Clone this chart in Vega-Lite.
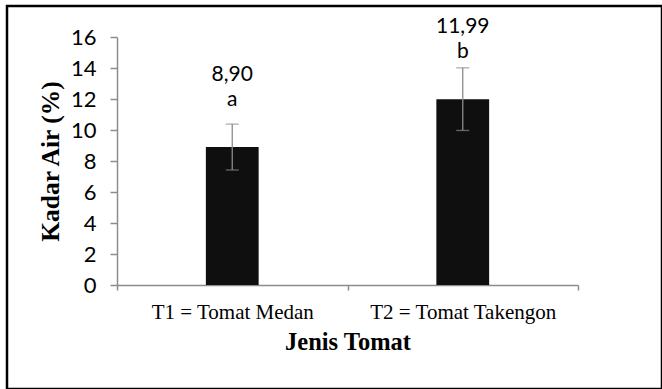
{
  "$schema": "https://vega.github.io/schema/vega-lite/v6.json",
  "width": 655,
  "height": 383,
  "autosize": {"type": "none"},
  "padding": {"left": 7, "top": 6, "right": 0, "bottom": 0},
  "background": "white",
  "config": {
    "view": {"stroke": "#000000", "strokeWidth": 2.5, "fill": "white"},
    "axis": {"grid": false, "domainColor": "#8c8c8c", "tickColor": "#8c8c8c", "domainWidth": 1.5, "tickWidth": 1.5, "labelColor": "#000000", "titleColor": "#000000"}
  },
  "data": {
    "values": [
      {"jenis": "T1 = Tomat Medan", "kadar": 8.90, "lo": 7.42, "hi": 10.38, "label": "8,90", "notasi": "a"},
      {"jenis": "T2 = Tomat Takengon", "kadar": 11.99, "lo": 9.97, "hi": 14.01, "label": "11,99", "notasi": "b"}
    ]
  },
  "encoding": {
    "x": {
      "field": "jenis",
      "type": "nominal",
      "sort": null,
      "scale": {"range": [110, 571], "paddingInner": 0, "paddingOuter": 0},
      "axis": {
        "orient": "bottom",
        "offset": -104,
        "title": "Jenis Tomat",
        "labelAngle": 0,
        "labelLimit": 0,
        "tickBand": "extent",
        "tickSize": 5,
        "labelPadding": 11,
        "labelFont": "Liberation Serif",
        "labelFontSize": 21,
        "titleFont": "Liberation Serif",
        "titleFontSize": 24.5,
        "titleFontWeight": "bold",
        "titlePadding": 8
      }
    }
  },
  "layer": [
    {
      "mark": {"type": "bar", "color": "#0f0f0f", "width": {"band": 0.229}},
      "encoding": {
        "y": {
          "field": "kadar",
          "type": "quantitative",
          "scale": {"domain": [0, 16], "range": [279, 31], "nice": false},
          "axis": {
            "orient": "left",
            "offset": -110,
            "title": "Kadar Air (%)",
            "values": [0, 2, 4, 6, 8, 10, 12, 14, 16],
            "tickSize": 7,
            "labelPadding": 14,
            "labelFont": "Lato",
            "labelFontSize": 22,
            "titleFont": "Liberation Serif",
            "titleFontSize": 25.5,
            "titleFontWeight": "bold",
            "titlePadding": 7
          }
        }
      }
    },
    {
      "mark": {"type": "rule", "color": "#8c8c8c", "strokeWidth": 1.3},
      "encoding": {
        "y": {"field": "lo", "type": "quantitative"},
        "y2": {"field": "hi"}
      }
    },
    {
      "mark": {"type": "tick", "color": "#8c8c8c", "size": 13, "thickness": 1.3},
      "encoding": {"y": {"field": "lo", "type": "quantitative"}}
    },
    {
      "mark": {"type": "tick", "color": "#8c8c8c", "size": 13, "thickness": 1.3},
      "encoding": {"y": {"field": "hi", "type": "quantitative"}}
    },
    {
      "mark": {"type": "text", "font": "Lato", "fontSize": 21, "color": "#000000", "baseline": "middle", "dy": -72},
      "encoding": {
        "y": {"field": "kadar", "type": "quantitative"},
        "text": {"field": "label"}
      }
    },
    {
      "mark": {"type": "text", "font": "Lato", "fontSize": 21, "color": "#000000", "baseline": "middle", "dy": -47},
      "encoding": {
        "y": {"field": "kadar", "type": "quantitative"},
        "text": {"field": "notasi"}
      }
    }
  ]
}
